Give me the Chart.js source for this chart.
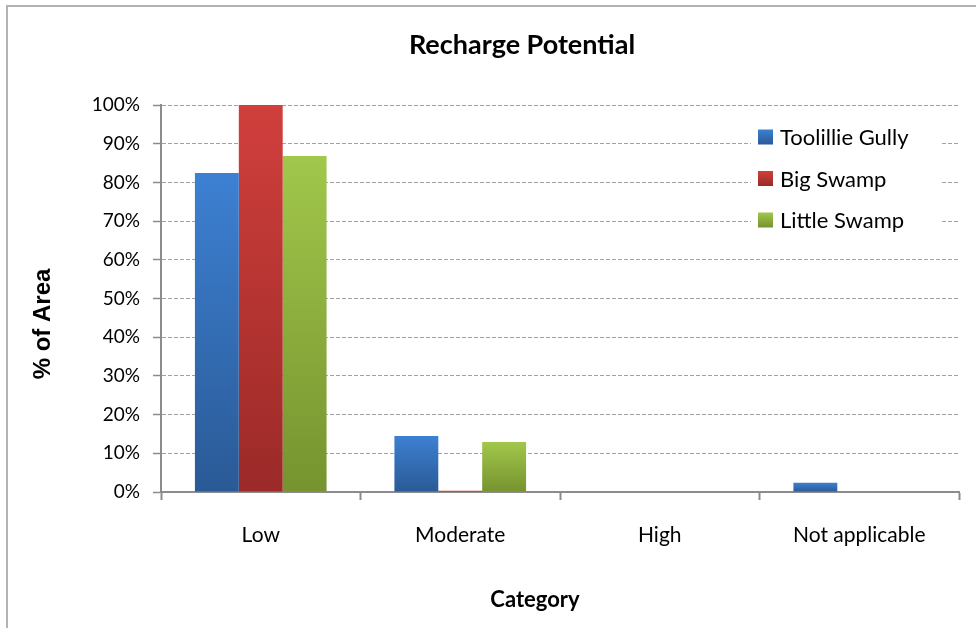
<!DOCTYPE html>
<html>
<head>
<meta charset="utf-8">
<title>Recharge Potential</title>
<script src="https://cdn.jsdelivr.net/npm/chart.js@4/dist/chart.umd.min.js"></script>
<style>
  html, body { margin: 0; padding: 0; background: #fff; }
  #wrap { width: 976px; height: 628px; position: relative; }
</style>
</head>
<body>
<div id="wrap"><canvas id="c" width="976" height="628"></canvas></div>
<script>
// Categories and series (% of area)
const categories = ['Low', 'Moderate', 'High', 'Not applicable'];
const toolillieGully = [82.4, 14.5, 0, 2.4];
const bigSwamp = [100, 0.3, 0, 0];
const littleSwamp = [86.8, 12.9, 0, 0];
const yTickValues = [0, 10, 20, 30, 40, 50, 60, 70, 80, 90, 100];

const chartTitle = 'Recharge Potential';
const xTitle = 'Category';
const yTitle = '% of Area';

// Top / bottom colours of each series' vertical gradient
const seriesColors = {
  'Toolillie Gully': ['#3d80d2', '#2a5a96'],
  'Big Swamp': ['#d03f3c', '#9b2a28'],
  'Little Swamp': ['#a1c74b', '#76932f']
};

function barGradient(label) {
  return function (ctx) {
    const chart = ctx.chart;
    const [top, bottom] = seriesColors[label];
    const y = chart.scales && chart.scales.y;
    if (!y || ctx.type !== 'data' || ctx.raw === undefined) return top;
    const yTop = y.getPixelForValue(ctx.raw);
    const yBase = y.getPixelForValue(0);
    if (!isFinite(yTop) || !isFinite(yBase) || Math.abs(yBase - yTop) < 0.5) return bottom;
    const g = chart.ctx.createLinearGradient(0, yTop, 0, yBase);
    g.addColorStop(0, top);
    g.addColorStop(1, bottom);
    return g;
  };
}

function makeDataset(label, values) {
  return {
    label: label,
    data: values,
    backgroundColor: barGradient(label),
    borderWidth: 0,
    categoryPercentage: 0.66,
    barPercentage: 1.0
  };
}

// Outer frame of the chart object
const framePlugin = {
  id: 'frame',
  beforeDraw(chart) {
    const c = chart.ctx;
    c.save();
    c.fillStyle = '#ffffff';
    c.fillRect(0, 0, chart.width, chart.height);
    c.strokeStyle = '#b3b3b3';
    c.lineWidth = 2;
    c.beginPath();
    c.moveTo(7, chart.height + 5);
    c.lineTo(7, 6);
    c.lineTo(chart.width + 5, 6);
    c.stroke();
    c.restore();
  }
};

// Chart title and axis titles, placed relative to the plot area
const titlesPlugin = {
  id: 'titles',
  afterDraw(chart) {
    const c = chart.ctx;
    const a = chart.chartArea;
    c.save();
    c.fillStyle = '#000000';
    c.textAlign = 'center';
    c.textBaseline = 'middle';

    c.font = 'bold 27px Lato, "Open Sans", sans-serif';
    c.fillText(chartTitle, a.left + 361, 45);

    c.font = 'bold 22px Lato, "Open Sans", sans-serif';
    c.fillText(xTitle, a.left + 374, 600);

    c.font = 'bold 24px "Liberation Sans", Arial, sans-serif';
    c.translate(43, a.top + 219);
    c.rotate(-Math.PI / 2);
    c.fillText(yTitle, 0, 0);
    c.restore();
  }
};

// Legend drawn inside the plot area, on a white box
const insideLegend = {
  id: 'insideLegend',
  afterDatasetsDraw(chart) {
    const c = chart.ctx;
    const area = chart.chartArea;
    const boxLeft = area.left + 590;
    const boxTop = area.top + 12;
    const boxW = 190;
    const boxH = 124;
    c.save();
    c.fillStyle = '#ffffff';
    c.fillRect(boxLeft, boxTop, boxW, boxH);
    c.font = '22px Lato, "Open Sans", sans-serif';
    c.textBaseline = 'middle';
    c.textAlign = 'left';
    chart.data.datasets.forEach((ds, i) => {
      const cy = boxTop + 20 + i * 41.5;
      const sx = boxLeft + 7;
      const [top, bottom] = seriesColors[ds.label];
      const g = c.createLinearGradient(0, cy - 7.5, 0, cy + 7.5);
      g.addColorStop(0, top);
      g.addColorStop(1, bottom);
      c.fillStyle = g;
      c.fillRect(sx, cy - 7.5, 15, 15);
      c.fillStyle = '#000000';
      c.fillText(ds.label, sx + 22, cy + 1);
    });
    c.restore();
  }
};

const axisGray = '#8c8c8c';

new Chart(document.getElementById('c'), {
  type: 'bar',
  data: {
    labels: categories,
    datasets: [
      makeDataset('Toolillie Gully', toolillieGully),
      makeDataset('Big Swamp', bigSwamp),
      makeDataset('Little Swamp', littleSwamp)
    ]
  },
  options: {
    responsive: false,
    animation: false,
    devicePixelRatio: 1,
    layout: { padding: { left: 18, right: 17, top: 105, bottom: 0 } },
    plugins: {
      legend: { display: false },
      tooltip: { enabled: false },
      title: { display: false }
    },
    scales: {
      x: {
        offset: true,
        grid: {
          display: true,
          drawOnChartArea: false,
          drawTicks: true,
          tickLength: 8,
          tickColor: axisGray,
          tickWidth: 2,
          offset: true
        },
        border: { display: true, color: axisGray, width: 2 },
        ticks: {
          color: '#000000',
          font: { family: 'Lato, "Open Sans", sans-serif', size: 21 },
          padding: 23,
          maxRotation: 0
        },
        title: { display: false },
        afterFit(scale) { scale.height = 136; }
      },
      y: {
        min: 0,
        max: 100,
        afterBuildTicks(scale) { scale.ticks = yTickValues.map(v => ({ value: v })); },
        grid: {
          display: true,
          color: '#a3a3a3',
          lineWidth: 1,
          drawTicks: true,
          tickLength: 8,
          tickColor: axisGray,
          tickWidth: 1.5,
          tickBorderDash: []
        },
        border: { display: true, color: axisGray, width: 2, dash: [4, 2] },
        ticks: {
          color: '#000000',
          font: { family: 'Lato, "Open Sans", sans-serif', size: 19 },
          padding: 13,
          callback: v => v + '%'
        },
        title: { display: false },
        afterFit(scale) { scale.width = 143; }
      }
    }
  },
  plugins: [framePlugin, insideLegend, titlesPlugin]
});
</script>
</body>
</html>
